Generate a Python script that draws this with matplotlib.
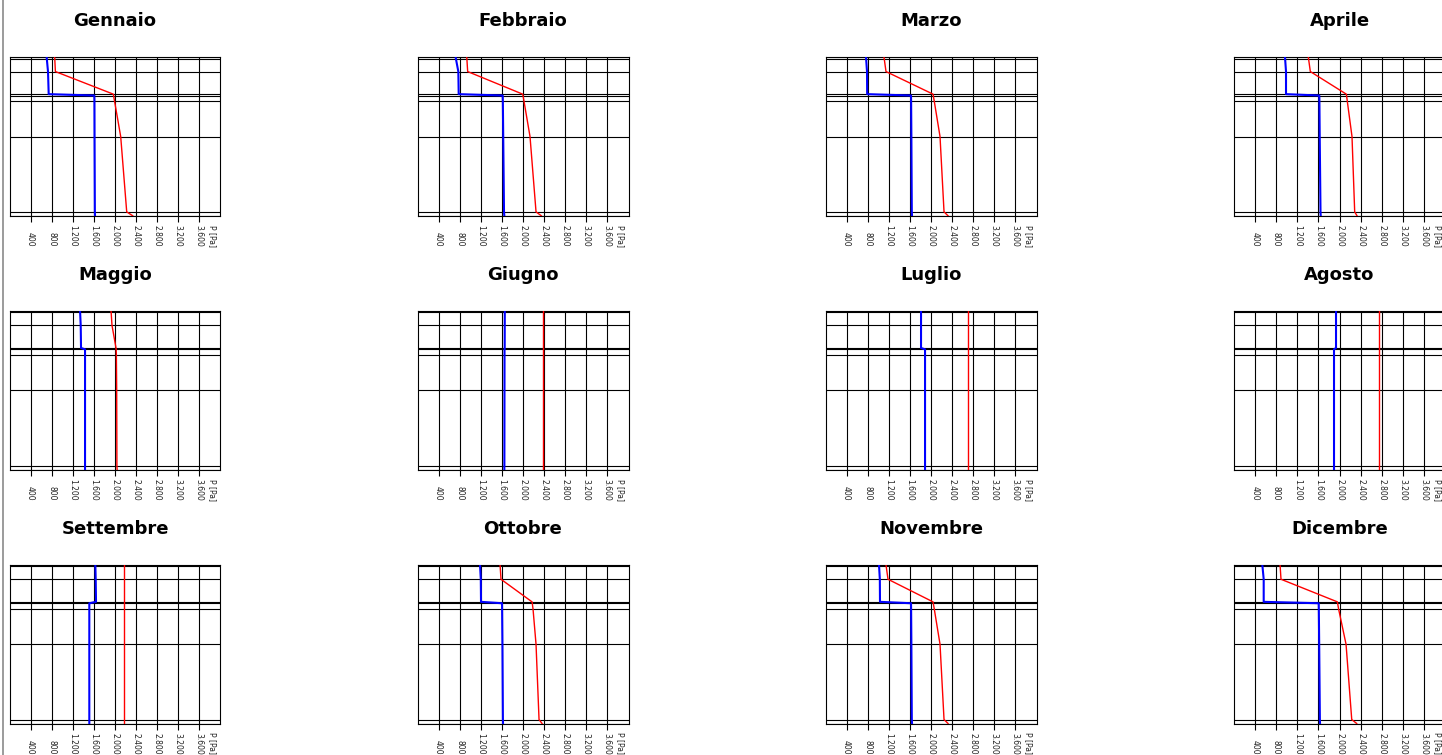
import matplotlib
matplotlib.use("Agg")
import matplotlib.pyplot as plt
from matplotlib.lines import Line2D
import matplotlib.transforms as mtransforms

# months shown, in grid order (4 columns x 3 rows)
months = ["Gennaio", "Febbraio", "Marzo", "Aprile",
          "Maggio", "Giugno", "Luglio", "Agosto",
          "Settembre", "Ottobre", "Novembre", "Dicembre"]

# layer boundaries through the wall [cm], outside at the top
depth = [0.0, 0.35, 3.6, 9.3, 9.65, 11.1, 20.0, 39.0, 40.0]

# saturation pressure at each boundary [Pa] (red)
p_sat = [
    [855, 858, 870, 1968, 1973, 1992, 2108, 2222, 2336],    # Gennaio
    [933, 936, 951, 1994, 2000, 2019, 2133, 2247, 2347],    # Febbraio
    [1109, 1113, 1147, 2038, 2043, 2062, 2171, 2247, 2323], # Marzo
    [1409, 1413, 1447, 2129, 2134, 2148, 2237, 2288, 2332], # Aprile
    [1925, 1927, 1943, 2019, 2022, 2026, 2032, 2036, 2040], # Maggio
    [2380, 2380, 2380, 2380, 2380, 2380, 2380, 2380, 2380], # Giugno
    [2702, 2702, 2702, 2702, 2702, 2702, 2702, 2702, 2702], # Luglio
    [2749, 2749, 2749, 2749, 2749, 2749, 2749, 2749, 2749], # Agosto
    [2177, 2177, 2177, 2177, 2177, 2177, 2177, 2177, 2177], # Settembre
    [1564, 1567, 1583, 2171, 2176, 2190, 2247, 2304, 2361], # Ottobre
    [1147, 1151, 1185, 2038, 2043, 2062, 2171, 2247, 2323], # Novembre
    [872, 875, 891, 1959, 1964, 1983, 2124, 2232, 2326],    # Dicembre
]

# vapour partial pressure at each boundary [Pa] (blue)
p_vap = [
    [705, 707, 730, 743, 1608, 1610, 1612, 1618, 1621],     # Gennaio
    [724, 728, 774, 781, 1615, 1618, 1625, 1640, 1646],     # Febbraio
    [768, 770, 787, 790, 1621, 1623, 1628, 1636, 1640],     # Marzo
    [967, 969, 986, 986, 1617, 1619, 1625, 1640, 1644],     # Aprile
    [1337, 1339, 1350, 1356, 1432, 1432, 1432, 1432, 1432], # Maggio
    [1655, 1655, 1654, 1653, 1650, 1650, 1649, 1647, 1646], # Giugno
    [1811, 1811, 1811, 1811, 1887, 1887, 1887, 1887, 1887], # Luglio
    [1934, 1934, 1934, 1934, 1896, 1896, 1896, 1896, 1896], # Agosto
    [1627, 1628, 1634, 1640, 1513, 1513, 1513, 1513, 1513], # Settembre
    [1185, 1187, 1200, 1204, 1602, 1604, 1610, 1619, 1621], # Ottobre
    [1014, 1016, 1030, 1033, 1621, 1623, 1628, 1636, 1640], # Novembre
    [537, 540, 563, 563, 1606, 1608, 1615, 1628, 1631],     # Dicembre
]

x_ticks = [400, 800, 1200, 1600, 2000, 2400, 2800, 3200, 3600]
x_max = 4000

W, H = 1442, 755
fig = plt.figure(figsize=(W / 100, H / 100), dpi=100)

# panel layout in pixels (the last column runs past the right edge)
col_left = [9.5, 417.5, 825.5, 1234.0]
row_top = [57.3, 311.1, 565.0]
ax_w, ax_h = 211.0, 158.5

tick_labels = [f"{t:,}".replace(",", ".") for t in x_ticks]

for i, month in enumerate(months):
    r, c = divmod(i, 4)
    left = col_left[c] / W
    bottom = 1 - (row_top[r] + ax_h) / H
    ax = fig.add_axes([left, bottom, ax_w / W, ax_h / H])

    # grid: pressure lines and layer boundaries
    for t in x_ticks:
        ax.axvline(t, color="black", lw=0.8, zorder=1)
    for d in depth:
        ax.axhline(d, color="black", lw=0.8, zorder=1)

    ax.plot(p_sat[i], depth, color="#ff0000", lw=1.0, zorder=3)
    ax.plot(p_vap[i], depth, color="#0000ff", lw=1.5, zorder=4)

    ax.set_xlim(0, x_max)
    ax.set_ylim(depth[-1], depth[0])
    ax.set_yticks([])
    ax.set_xticks(x_ticks)
    ax.set_xticklabels([])
    ax.tick_params(axis="x", direction="out", length=4.5, width=0.8, color="black")
    for sp in ax.spines.values():
        sp.set_color("black")
        sp.set_linewidth(0.8)

    # rotated tick labels, all ending at the same height
    trans = mtransforms.blended_transform_factory(ax.transData, ax.transAxes)
    lab_y = -31.0 / ax_h
    for t, lbl in zip(x_ticks, tick_labels):
        ax.text(t, lab_y, lbl, transform=trans, rotation=-90,
                ha="center", va="bottom", fontsize=5.5, color="#222222")
    ax.text(0.963, lab_y, "P [Pa]", transform=ax.transAxes, rotation=-90,
            ha="center", va="bottom", fontsize=5.5, color="#222222")

    fig.text((col_left[c] + ax_w / 2) / W, 1 - (row_top[r] - 36) / H, month,
             ha="center", va="center", fontsize=13, fontweight="bold")

# thin frame line on the left edge
fig.add_artist(Line2D([2.5 / W, 2.5 / W], [0, 1], transform=fig.transFigure,
                      color="#8a8a8a", lw=1.2))

fig.savefig("out.png", dpi=100)
